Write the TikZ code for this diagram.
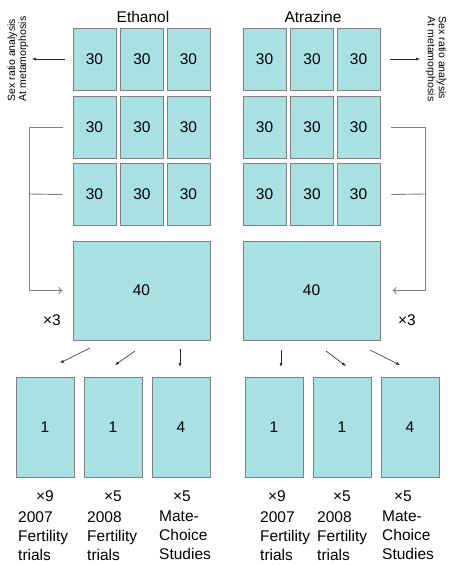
\documentclass[tikz,border=0pt]{standalone}
\usepackage{fontspec}
\setmainfont{Liberation Sans}
\usetikzlibrary{arrows.meta, positioning}

\begin{document}
\begin{tikzpicture}[x=1pt, y=-1pt, font=\fontsize{15.5}{19}\selectfont,
  tank/.style={draw=boxgray, fill=tankcyan, line width=0.9pt, inner sep=0pt},
  cell/.style={tank, minimum width=43pt, minimum height=62pt},
  vial/.style={tank, minimum width=58pt, minimum height=100pt},
  pool/.style={tank, minimum width=137pt, minimum height=99pt},
  tip/.style={-{Latex[length=4pt, width=3pt]}, line width=0.6pt, draw=black!85},
  feed/.style={-{To[length=4pt, width=7pt]}, line width=0.9pt, draw=boxgray},
  note/.style={font=\fontsize{10.5}{11}\selectfont, align=left}]
  \definecolor{tankcyan}{HTML}{A8E0E3}
  \definecolor{boxgray}{HTML}{808080}

  \useasboundingbox (0,0) rectangle (453,565);

  % titles
  \node (ethanol) at (143,17) {Ethanol};
  \node (atrazine) at (313,17) {Atrazine};

  % 30-tadpole tanks
  \foreach \r/\y in {1/59, 2/127, 3/194.5} {
    \node[cell] (e\r1) at (94.5,\y) {30};
    \node[cell] (e\r2) at (142,\y) {30};
    \node[cell] (e\r3) at (188.5,\y) {30};
    \node[cell] (a\r1) at (264.5,\y) {30};
    \node[cell] (a\r2) at (312,\y) {30};
    \node[cell] (a\r3) at (358.5,\y) {30};
  }

  % sex ratio at metamorphosis
  \node[note, rotate=90] (sexL) at (18,59) {Sex ratio analysis\\At metamorphosis};
  \node[note, rotate=-90] (sexR) at (436,59) {Sex ratio analysis\\At metamorphosis};
  \draw[tip] ([xshift=-8pt]e11.west) -- (sexL.south);
  \draw[tip] ([xshift=10pt]a13.east) -- ([xshift=-2pt]sexR.south);

  % pooled tanks
  \node[pool] (poolE) at (141.5,290.5) {40};
  \node[pool] (poolA) at (311.5,290.5) {40};
  \node (x3E) at (52,320) {×3};
  \node (x3A) at (407,320) {×3};

  \coordinate (bendE) at (29,127);
  \coordinate (bendA) at (425,127);
  \draw[feed] ([xshift=-10pt]e21.west) -- (bendE) |- ([xshift=-10pt]poolE.west);
  \draw[boxgray, line width=0.9pt] ([xshift=-10pt]e31.west) -- (29,194);
  \draw[feed] ([xshift=11pt]a23.east) -- (bendA) |- ([xshift=12pt]poolA.east);
  \draw[boxgray, line width=0.9pt] ([xshift=11pt]a33.east) -- (425,194);

  % individual males
  \node[vial] (v1) at (45,427) {1};
  \node[vial] (v2) at (113,427) {1};
  \node[vial] (v3) at (181,427) {4};
  \node[vial] (w1) at (274,427) {1};
  \node[vial] (w2) at (342,427) {1};
  \node[vial] (w3) at (410,427) {4};

  % split arrows
  \coordinate (s1) at (90,348);  \coordinate (t1) at (60,363);
  \coordinate (s2) at (135,351); \coordinate (t2) at (115,365);
  \coordinate (s3) at (180,349); \coordinate (t3) at (180,367);
  \coordinate (s4) at (281,350); \coordinate (t4) at (281,367);
  \coordinate (s5) at (326,351); \coordinate (t5) at (346,366);
  \coordinate (s6) at (370,350); \coordinate (t6) at (400,365);
  \foreach \i in {1,...,6} \draw[tip] (s\i) -- (t\i);

  % replicates and trials
  \node (n1) at (45,496) {×9};
  \node (n2) at (113,496) {×5};
  \node (n3) at (182,496) {×5};
  \node (n4) at (277,496) {×9};
  \node (n5) at (342,496) {×5};
  \node (n6) at (403,496) {×5};

  \node[anchor=north west, align=left, inner sep=0pt] (lab1) at (18,511) {2007\\Fertility\\trials};
  \node[anchor=north west, align=left, inner sep=0pt] (lab2) at (87,511) {2008\\Fertility\\trials};
  \node[anchor=north west, align=left, inner sep=0pt] (lab3) at (159,511) {Mate-\\Choice\\Studies};
  \node[anchor=north west, align=left, inner sep=0pt] (lab4) at (260,511) {2007\\Fertility\\trials};
  \node[anchor=north west, align=left, inner sep=0pt] (lab5) at (317,511) {2008\\Fertility\\trials};
  \node[anchor=north west, align=left, inner sep=0pt] (lab6) at (382,511) {Mate-\\Choice\\Studies};
\end{tikzpicture}
\end{document}
